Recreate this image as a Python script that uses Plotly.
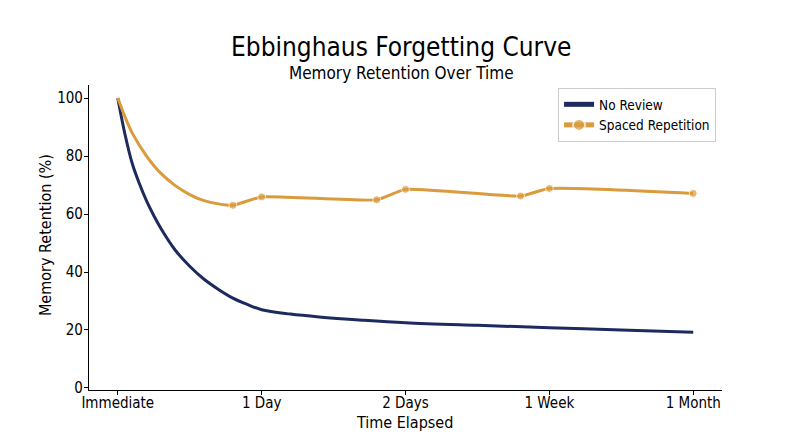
import plotly.graph_objects as go

# time axis: 0 = Immediate ... 4 = 1 Month
tick_vals = [0, 1, 2, 3, 4]
tick_labels = ['Immediate', '1 Day', '2 Days', '1 Week', '1 Month']
y_ticks = [0, 20, 40, 60, 80, 100]

# no review curve
no_review_x = [0, 0.05, 0.1, 0.15, 0.2, 0.25, 0.3, 0.4, 0.5, 0.6, 0.7, 0.8, 0.9, 1.0, 1.2, 1.4, 1.7, 2.0, 2.5, 3.0, 3.5, 4.0]
no_review_y = [100, 87.5, 77.5, 70.5, 64.5, 59.5, 55, 47.5, 42, 37.5, 34, 31, 28.8, 27, 25.5, 24.5, 23.4, 22.5, 21.6, 20.8, 20.0, 19.2]

# spaced repetition curve, review points marked
spaced_x = [0, 0.05, 0.1, 0.2, 0.3, 0.4, 0.5, 0.6, 0.7, 0.8, 1.0, 1.8, 2.0, 2.8, 3.0, 4.0]
spaced_y = [100, 93.5, 88, 80, 74, 69.8, 66.7, 64.6, 63.5, 63.0, 65.9, 64.9, 68.5, 66.2, 68.8, 67.1]
review_mark = [0, 0, 0, 0, 0, 0, 0, 0, 0, 1, 1, 1, 1, 1, 1, 1]

navy = '#1c2a5e'
gold = '#d99b3b'
font_name = 'DejaVu Sans Condensed, DejaVu Sans'

fig = go.Figure()

fig.add_trace(go.Scatter(
    x=no_review_x, y=no_review_y,
    mode='lines', name='No Review',
    line=dict(color=navy, width=3, shape='spline', smoothing=1.0)
))

fig.add_trace(go.Scatter(
    x=spaced_x, y=spaced_y,
    mode='lines+markers', name='Spaced Repetition',
    line=dict(color=gold, width=3, shape='spline', smoothing=0.5),
    marker=dict(color=gold, size=[8 * m for m in review_mark])
))

# page body adds 8px, margins are shifted to compensate
fig.update_layout(
    width=800, height=447,
    paper_bgcolor='white',
    plot_bgcolor='white',
    font=dict(family=font_name, color='black', size=13),
    margin=dict(l=81, r=86, t=77, b=65),
    showlegend=True,
    legend=dict(
        x=0.741, y=0.99, xanchor='left', yanchor='top',
        bordercolor='#cccccc', borderwidth=1,
        bgcolor='rgba(255,255,255,0.9)',
        itemsizing='constant',
        font=dict(size=13.5),
        tracegroupgap=0
    )
)

# title and subtitle
fig.add_annotation(
    text='Ebbinghaus Forgetting Curve',
    xref='paper', yref='paper', x=0.493, y=1.125,
    xanchor='center', yanchor='middle', showarrow=False,
    font=dict(size=26)
)
fig.add_annotation(
    text='Memory Retention Over Time',
    xref='paper', yref='paper', x=0.493, y=1.039,
    xanchor='center', yanchor='middle', showarrow=False,
    font=dict(size=17)
)

# axis titles
fig.add_annotation(
    text='Time Elapsed',
    xref='paper', yref='paper', x=0.499, y=-0.105,
    xanchor='center', yanchor='middle', showarrow=False,
    font=dict(size=16)
)
fig.add_annotation(
    text='Memory Retention (%)',
    xref='paper', yref='paper', x=-0.0695, y=0.508,
    xanchor='center', yanchor='middle', showarrow=False,
    textangle=-90,
    font=dict(size=16)
)

fig.update_xaxes(
    range=[-0.2, 4.2],
    tickvals=tick_vals, ticktext=tick_labels,
    showgrid=False, zeroline=False,
    showline=True, linecolor='black', linewidth=1.2,
    ticks='outside', ticklen=4, tickcolor='black',
    tickfont=dict(size=15),
    ticklabelstandoff=-5,
    automargin=False
)

fig.update_yaxes(
    range=[-0.7, 104.5],
    tickvals=y_ticks,
    showgrid=False, zeroline=False,
    showline=True, linecolor='black', linewidth=1.2,
    ticks='outside', ticklen=4, tickcolor='black',
    tickfont=dict(size=15),
    ticklabelstandoff=-2,
    automargin=False
)

fig.write_html('out.html')
